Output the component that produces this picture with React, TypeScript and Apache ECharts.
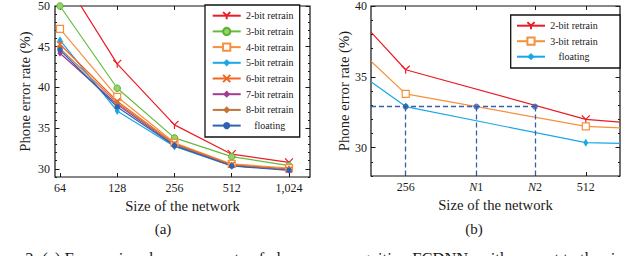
import { useEffect, useRef } from 'react';
import * as echarts from 'echarts';

// ---- data (left chart) ----
const leftSizes = [64, 128, 256, 512, 1024];
const bit2 = [54.1, 42.9, 35.4, 31.8, 30.8];
const bit3 = [50.0, 39.9, 33.8, 31.5, 30.4];
const bit4 = [47.2, 38.85, 33.2, 30.6, 30.1];
const bit5 = [45.8, 37.1, 32.75, 30.35, 29.95];
const bit6 = [45.3, 38.3, 33.1, 30.5, 29.9];
const bit7 = [44.2, 37.9, 32.9, 30.4, 29.9];
const bit8 = [44.8, 38.1, 33.0, 30.45, 29.95];
const floating = [44.6, 37.6, 32.85, 30.35, 29.8];
const leftYTicks = [30, 35, 40, 45, 50];

// ---- data (right chart) ----
const rightSizes = [224, 256, 512, 584];
const right2bit = [38.15, 35.5, 32.0, 31.8];
const right3bit = [36.1, 33.8, 31.5, 31.4];
const rightFloat = [34.65, 32.9, 30.35, 30.3];
const rightTickSizes = [256, 336, 421, 512];
const rightTickLabels = ['256', '{i|N}1', '{i|N}2', '512'];
const targetRate = 32.9;
const targetSizes = [256, 336, 421];
const rightYTicks = [30, 35, 40];

const FONT = 'Liberation Serif';
const INK = '#1a1a1a';

const Y_PATH = 'path://M0,0L5,5L10,0M5,5L5,10';
const X_PATH = 'path://M0,0L10,10M10,0L0,10';

function pts(sizes: number[], vals: number[]) {
  return sizes.map((s, i) => [Math.log2(s), vals[i]]);
}

export default function App() {
  const ref = useRef<HTMLDivElement>(null);
  useEffect(() => {
    if (!ref.current) return;
    const chart = echarts.init(ref.current, undefined, { renderer: 'svg' });

    const lxMin = 5.913, lxMax = 10.367;
    const rxMin = Math.log2(rightSizes[0]);
    const rxMax = Math.log2(rightSizes[rightSizes.length - 1]);

    const tickLine = { color: INK, width: 1 };
    const labelStyle = { fontFamily: FONT, fontSize: 12, color: INK };
    const nameStyle = { fontFamily: FONT, fontSize: 14.7, color: INK };

    const xPair = (grid: number, min: number, max: number, ticks: number[], fmt: any, name: string, rich?: any) => [
      {
        type: 'value', gridIndex: grid, min, max, position: 'bottom',
        axisLine: { show: false }, splitLine: { show: false },
        axisTick: { inside: true, length: 4, customValues: ticks, lineStyle: tickLine },
        axisLabel: { customValues: ticks, formatter: fmt, margin: 5, ...labelStyle, ...(rich ? { rich } : {}) },
        name, nameLocation: 'middle', nameGap: 21, nameTextStyle: { ...nameStyle, verticalAlign: 'top' },
      },
      {
        type: 'value', gridIndex: grid, min, max, position: 'top',
        axisLine: { show: false }, splitLine: { show: false },
        axisTick: { inside: true, length: 4, customValues: ticks, lineStyle: tickLine },
        axisLabel: { show: false },
      },
    ];

    const yQuad = (grid: number, min: number, max: number, majors: number[], gap: number, margin: number) => [
      {
        type: 'value', gridIndex: grid, min, max, interval: 1, position: 'left',
        axisLine: { show: false }, splitLine: { show: false },
        axisTick: { inside: true, length: 2, lineStyle: tickLine },
        axisLabel: { customValues: majors, margin, ...labelStyle },
        name: 'Phone error rate (%)', nameLocation: 'middle', nameGap: gap, nameTextStyle: nameStyle,
      },
      {
        type: 'value', gridIndex: grid, min, max, interval: 1, position: 'right',
        axisLine: { show: false }, splitLine: { show: false },
        axisTick: { inside: true, length: 2, lineStyle: tickLine },
        axisLabel: { show: false },
      },
      {
        type: 'value', gridIndex: grid, min, max, position: 'left',
        axisLine: { show: false }, splitLine: { show: false },
        axisTick: { inside: true, length: 4.5, customValues: majors, lineStyle: tickLine },
        axisLabel: { show: false },
      },
      {
        type: 'value', gridIndex: grid, min, max, position: 'right',
        axisLine: { show: false }, splitLine: { show: false },
        axisTick: { inside: true, length: 4.5, customValues: majors, lineStyle: tickLine },
        axisLabel: { show: false },
      },
    ];

    const leftLine = (name: string, vals: number[], color: string, symbol: string, symbolSize: any, item: any) => ({
      type: 'line', name, xAxisIndex: 0, yAxisIndex: 0,
      data: pts(leftSizes, vals),
      symbol, symbolSize, showAllSymbol: true,
      lineStyle: { color, width: 1.2 },
      itemStyle: { color, ...item },
      clip: true, z: 3,
    });

    const rightLine = (name: string, vals: number[], color: string, symbol: string, symbolSize: any, item: any) => ({
      type: 'line', name, xAxisIndex: 2, yAxisIndex: 4,
      data: pts(rightSizes, vals).map((p, i) =>
        i === 0 || i === rightSizes.length - 1 ? { value: p, symbol: 'none' } : { value: p }),
      symbol, symbolSize, showAllSymbol: true,
      lineStyle: { color, width: 1.2 },
      itemStyle: { color, ...item },
      clip: true, z: 3,
    });

    const legendBase = {
      orient: 'vertical', itemWidth: 28, itemHeight: 9,
      borderColor: '#111', borderWidth: 1.3, backgroundColor: '#fff',
      formatter: (n: string) => `{t|${n.trim()}}`,
      textStyle: {
        fontFamily: FONT, fontSize: 10, color: INK, lineHeight: 10,
        rich: { t: { fontFamily: FONT, fontSize: 10, color: INK, width: 48, align: 'center', lineHeight: 10 } },
      },
    };

    const dashColor = '#3560ae';

    chart.setOption({
      animation: false,
      backgroundColor: '#fff',
      textStyle: { fontFamily: FONT },
      grid: [
        { left: 55, top: 3, width: 255, height: 174, show: true, borderColor: '#111', borderWidth: 1.2, backgroundColor: 'transparent' },
        { left: 371, top: 5, width: 249, height: 171, show: true, borderColor: '#111', borderWidth: 1.2, backgroundColor: 'transparent' },
      ],
      xAxis: [
        ...xPair(0, lxMin, lxMax, leftSizes.map(Math.log2),
          (v: number) => Math.round(2 ** v).toLocaleString('en-US'), 'Size of the network'),
        ...xPair(1, rxMin, rxMax, rightTickSizes.map(Math.log2),
          (v: number) => {
            const logs = rightTickSizes.map(Math.log2);
            let best = 0;
            logs.forEach((l, i) => { if (Math.abs(l - v) < Math.abs(logs[best] - v)) best = i; });
            return rightTickLabels[best];
          },
          'Size of the network',
          { i: { fontFamily: FONT, fontSize: 12, fontStyle: 'italic', color: INK } }),
      ],
      yAxis: [
        ...yQuad(0, 29, 50, leftYTicks, 23, 5),
        ...yQuad(1, 28, 40, rightYTicks, 19.5, 4),
      ],
      legend: [
        {
          ...legendBase, left: 205, top: 5, itemGap: 5.7, padding: [5.7, 6, 6.4, 6.7],
          data: ['2-bit retrain', '3-bit retrain', '4-bit retrain', '5-bit retrain', '6-bit retrain', '7-bit retrain', '8-bit retrain', 'floating'],
        },
        {
          ...legendBase, left: 510.7, top: 15, itemGap: 5.5, padding: [5.7, 22, 6.3, 5.3],
          data: ['2-bit retrain ', '3-bit retrain ', 'floating '],
        },
      ],
      series: [
        leftLine('2-bit retrain', bit2, '#ec1c24', Y_PATH, 8, { color: 'rgba(0,0,0,0)', borderColor: '#ec1c24', borderWidth: 1.2 }),
        leftLine('3-bit retrain', bit3, '#66bb3c', 'circle', 6.5, { color: '#93d46a', borderColor: '#5ab02f', borderWidth: 1 }),
        leftLine('4-bit retrain', bit4, '#f7903c', 'rect', 7, { color: '#fff', borderColor: '#f7903c', borderWidth: 1.2 }),
        leftLine('5-bit retrain', bit5, '#1ba6e8', 'diamond', [5, 8], {}),
        leftLine('6-bit retrain', bit6, '#f26522', X_PATH, 6, { color: 'rgba(0,0,0,0)', borderColor: '#f26522', borderWidth: 1.5 }),
        leftLine('7-bit retrain', bit7, '#a23c90', 'diamond', [5, 7], {}),
        leftLine('8-bit retrain', bit8, '#c6733a', 'diamond', [6, 7], {}),
        leftLine('floating', floating, '#2f62b2', 'circle', 5.5, {}),
        rightLine('2-bit retrain ', right2bit, '#ec1c24', Y_PATH, 8, { color: 'rgba(0,0,0,0)', borderColor: '#ec1c24', borderWidth: 1.2 }),
        rightLine('3-bit retrain ', right3bit, '#f7903c', 'rect', 7, { color: '#fff', borderColor: '#f7903c', borderWidth: 1.2 }),
        rightLine('floating ', rightFloat, '#1ba6e8', 'diamond', [5, 8], {}),
        {
          type: 'scatter', name: 'target', xAxisIndex: 2, yAxisIndex: 4,
          data: targetSizes.map((s) => [Math.log2(s), targetRate]),
          symbol: 'circle', symbolSize: 6, itemStyle: { color: dashColor }, z: 5,
          markLine: {
            silent: true, symbol: 'none', label: { show: false },
            lineStyle: { type: [5, 3], color: dashColor, width: 1.3 },
            data: [
              [{ coord: [rxMin, targetRate] }, { coord: [Math.log2(targetSizes[2]), targetRate] }],
              ...targetSizes.map((s) => [{ coord: [Math.log2(s), targetRate] }, { coord: [Math.log2(s), 28] }]),
            ],
          },
        },
      ],
      graphic: [
        { type: 'text', x: 163, y: 229, style: { text: '(a)', font: '15px Liberation Serif', fill: INK, align: 'center', verticalAlign: 'middle' } },
        { type: 'text', x: 474, y: 229, style: { text: '(b)', font: '15px Liberation Serif', fill: INK, align: 'center', verticalAlign: 'middle' } },
        {
          type: 'text', x: -22, y: 250,
          style: {
            text: 'Figure 2: (a) Framewise phone error rate of phoneme recognition FCDNNs with respect to the size of the network',
            font: '16.5px Liberation Serif', fill: INK, align: 'left', verticalAlign: 'top',
          },
        },
      ],
    });
    return () => chart.dispose();
  }, []);
  return <div ref={ref} style={{ position: 'fixed', left: 0, top: 0, width: 640, height: 256, background: '#fff' }} />;
}
